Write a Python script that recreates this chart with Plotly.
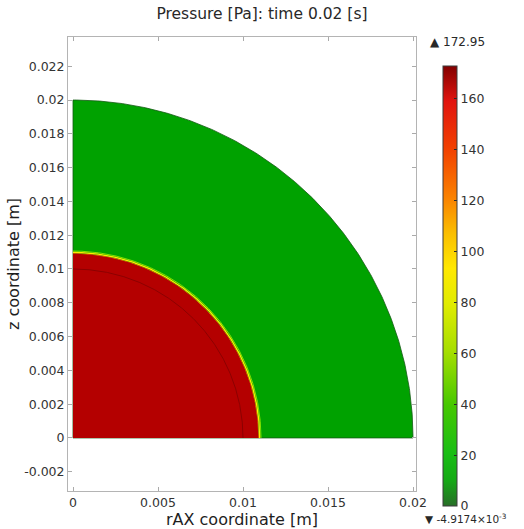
import numpy as np
import plotly.graph_objects as go

# ---- data ----
title_text = "Pressure [Pa]: time 0.02 [s]"
x_title = "rAX coordinate [m]"
y_title = "z coordinate [m]"
x_ticks = [0, 0.005, 0.01, 0.015, 0.02]
x_ticklabels = ["0", "0.005", "0.01", "0.015", "0.02"]
y_ticks = [-0.002, 0, 0.002, 0.004, 0.006, 0.008, 0.01, 0.012, 0.014, 0.016, 0.018, 0.02, 0.022]
y_ticklabels = ["-0.002", "0", "0.002", "0.004", "0.006", "0.008", "0.01", "0.012",
                "0.014", "0.016", "0.018", "0.02", "0.022"]
cbar_ticks = [0, 20, 40, 60, 80, 100, 120, 140, 160]
p_max = 172.95
p_min = -4.9174e-3

outer_radius = 0.02        # domain radius
outer_value = 0.0          # pressure outside the pressurized core
core_radius = 0.0109       # pressurized core radius (front position)
core_value = 172.95
front_radii = [0.01090, 0.01098, 0.01106]   # thin transition band
geom_boundary_radius = 0.01                 # internal geometry boundary

# ---- styles ----
colorscale = [
    [0.00, "rgb(40,110,40)"],
    [0.06, "rgb(20,170,20)"],
    [0.12, "rgb(25,190,20)"],
    [0.23, "rgb(70,200,0)"],
    [0.35, "rgb(165,222,0)"],
    [0.46, "rgb(225,236,0)"],
    [0.54, "rgb(255,232,0)"],
    [0.62, "rgb(250,190,0)"],
    [0.70, "rgb(250,130,0)"],
    [0.81, "rgb(242,65,0)"],
    [0.92, "rgb(225,20,15)"],
    [1.00, "rgb(130,0,0)"],
]
green_fill = "rgb(0,162,0)"
red_fill = "rgb(180,0,0)"
front_colors = ["rgb(255,110,0)", "rgb(255,235,0)", "rgb(130,225,0)"]
front_widths = [1, 1.3, 1]

theta = np.linspace(0, np.pi / 2, 300)


def quarter_disk(r):
    xs = np.concatenate([[0, r], r * np.cos(theta), [0]])
    ys = np.concatenate([[0, 0], r * np.sin(theta), [0]])
    return xs, ys


def arc(r):
    return r * np.cos(theta), r * np.sin(theta)


fig = go.Figure()

xs, ys = quarter_disk(outer_radius)
fig.add_trace(go.Scatter(x=xs, y=ys, fill="toself", fillcolor=green_fill, mode="lines",
                         line=dict(color="rgb(20,90,20)", width=0.8), hoverinfo="skip",
                         showlegend=False))
for r, c, w in zip(front_radii[::-1], front_colors[::-1], front_widths[::-1]):
    ax_, ay_ = arc(r)
    fig.add_trace(go.Scatter(x=ax_, y=ay_, mode="lines", line=dict(color=c, width=w),
                             hoverinfo="skip", showlegend=False))
xs, ys = quarter_disk(core_radius)
fig.add_trace(go.Scatter(x=xs, y=ys, fill="toself", fillcolor=red_fill, mode="lines",
                         line=dict(color=red_fill, width=0), hoverinfo="skip",
                         showlegend=False))
ax_, ay_ = arc(geom_boundary_radius)
fig.add_trace(go.Scatter(x=ax_, y=ay_, mode="lines", line=dict(color="rgb(140,0,0)", width=1),
                         hoverinfo="skip", showlegend=False))

# colorbar carrier
fig.add_trace(go.Scatter(
    x=[0, 0], y=[0, 0], mode="markers", hoverinfo="skip", showlegend=False,
    marker=dict(size=0.1, opacity=0, color=[p_min, p_max], cmin=p_min, cmax=p_max,
                colorscale=colorscale, showscale=True,
                colorbar=dict(x=1.0776, xanchor="left", xpad=0, ypad=0,
                              y=0.4515, yanchor="middle", len=440, lenmode="pixels",
                              thickness=14, outlinewidth=1, outlinecolor="rgb(60,60,60)",
                              tickvals=cbar_ticks, ticks="inside", ticklen=3,
                              tickcolor="rgb(40,40,40)",
                              tickfont=dict(size=12.5, color="rgb(51,51,51)",
                                            family="DejaVu Sans")))))

axis_common = dict(showgrid=False, zeroline=False, showline=True, mirror="ticks",
                   linecolor="rgb(180,180,180)", linewidth=1, ticks="inside", ticklen=4,
                   tickcolor="rgb(170,170,170)", automargin=False,
                   tickfont=dict(size=12.5, color="rgb(51,51,51)", family="DejaVu Sans"))

W, H = 524, 529

fig.update_layout(
    width=W, height=H,
    margin=dict(l=68, r=W - 416, t=37, b=H - 491, autoexpand=False),
    paper_bgcolor="white", plot_bgcolor="white",
    font=dict(family="DejaVu Sans", color="rgb(40,40,40)"),
    title=dict(text=title_text, x=0.5, xref="container", xanchor="center",
               y=1 - 14 / H, yref="container", yanchor="middle", pad=dict(t=0, b=0),
               font=dict(size=15.5, color="rgb(40,40,40)")),
    xaxis=dict(range=[-0.000294, 0.0201765], tickvals=x_ticks, ticktext=x_ticklabels,
               title=dict(text=x_title, standoff=1, font=dict(size=16, color="rgb(30,30,30)")),
               **axis_common),
    yaxis=dict(range=[-0.00314, 0.02373], tickvals=y_ticks, ticktext=y_ticklabels,
               title=dict(text=y_title, standoff=0, font=dict(size=16, color="rgb(30,30,30)")),
               **axis_common),
    annotations=[
        dict(text="▲ 172.95", xref="paper", yref="paper", x=(428 - 68) / 348, xanchor="left",
             y=(491 - 42) / 454, yanchor="middle", showarrow=False,
             font=dict(size=12, color="rgb(40,40,40)")),
        dict(text="▼ -4.9174×10<sup>-3</sup>", xref="paper", yref="paper",
             x=(423 - 68) / 348, xanchor="left", y=(491 - 518) / 454, yanchor="middle",
             showarrow=False, font=dict(size=10.5, color="rgb(40,40,40)")),
    ],
)

# remove the default 8 px page margin so the figure fills the window exactly
fig.write_html("out.html", config={"displayModeBar": False},
               post_script="document.body.style.margin='0';document.body.style.overflow='hidden';")
